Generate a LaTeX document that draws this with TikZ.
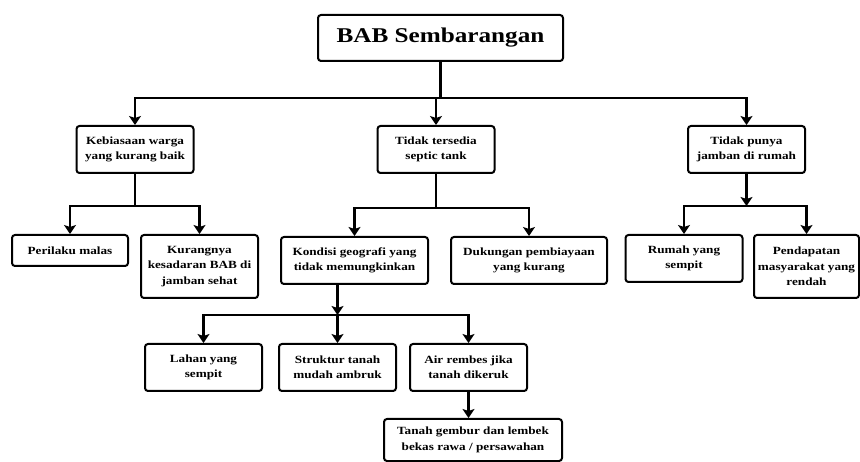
\documentclass[tikz,border=0pt]{standalone}
\usepackage{fontspec}
\setmainfont{Liberation Serif}[FakeStretch=1.2]
\usetikzlibrary{arrows.meta}
\tikzstyle{box}=[draw,line width=2pt,rounded corners=3pt,fill=white,align=center,inner sep=2pt,font=\bfseries\fontsize{11}{15.5}\selectfont]
\tikzstyle{edge} = [draw,line width=2.4pt,-{Stealth[length=9pt,width=12pt,inset=2pt]}]

\begin{document}
\begin{tikzpicture}[x=1pt,y=-1pt]
    \useasboundingbox (0,0) rectangle (860,462);
    % First we draw the boxes
    \node[box,minimum width=245pt,minimum height=46pt,font=\bfseries\fontsize{21}{25}\selectfont] (bab) at (440.5,38) {BAB Sembarangan};
    \foreach \pos/\name/\txt in {{(135,149.5)/kebiasaan/Kebiasaan warga\\yang kurang baik},
        {(436,149.5)/septic/Tidak tersedia\\septic tank},
        {(746.5,149.5)/jamban/Tidak punya\\jamban di rumah},
        {(684,258.5)/rumah/Rumah yang\\sempit},
        {(203.5,367.5)/lahan/Lahan yang\\sempit},
        {(337.5,367.5)/struktur/Struktur tanah\\mudah ambruk},
        {(468.5,367.5)/air/Air rembes jika\\tanah dikeruk}}
        \node[box,minimum width=117pt,minimum height=47pt] (\name) at \pos {\txt};
    \node[box,minimum width=116pt,minimum height=31pt] (perilaku) at (70,250.5) {Perilaku malas};
    \node[box,minimum width=117pt,minimum height=63pt] (kesadaran) at (199.5,266.5) {Kurangnya\\kesadaran BAB di\\jamban sehat};
    \node[box,minimum width=147pt,minimum height=47pt] (kondisi) at (354.5,260.5) {Kondisi geografi yang\\tidak memungkinkan};
    \node[box,minimum width=156pt,minimum height=47pt] (dukungan) at (529,260.5) {Dukungan pembiayaan\\yang kurang};
    \node[box,minimum width=105pt,minimum height=63pt] (pendapatan) at (806.5,266.5) {Pendapatan\\masyarakat yang\\rendah};
    \node[box,minimum width=178pt,minimum height=42pt] (tanah) at (473,440) {Tanah gembur dan lembek\\bekas rawa / persawahan};
    % Connect boxes with arrows
    \foreach \dest in {kebiasaan, septic, jamban}
        \path[edge] (bab.south) -- ++(0,36) -| (\dest.north);
    \foreach \dest in {perilaku, kesadaran}
        \path[edge] (kebiasaan.south) -- ++(0,32) -| (\dest.north);
    \foreach \dest in {kondisi, dukungan}
        \path[edge] (septic.south) -- ++(0,34) -| (\dest.north);
    \path[edge] (jamban.south) -- ++(0,32) coordinate (jr);
    \foreach \dest in {rumah, pendapatan}
        \path[edge] (jr) -| (\dest.north);
    \path[edge] (kondisi.south -| struktur.north) -- ++(0,30) coordinate (kr);
    \foreach \dest in {lahan, struktur, air}
        \path[edge] (kr) -| (\dest.north);
    \path[edge] (air.south) -- (air.south |- tanah.north);
\end{tikzpicture}
\end{document}
